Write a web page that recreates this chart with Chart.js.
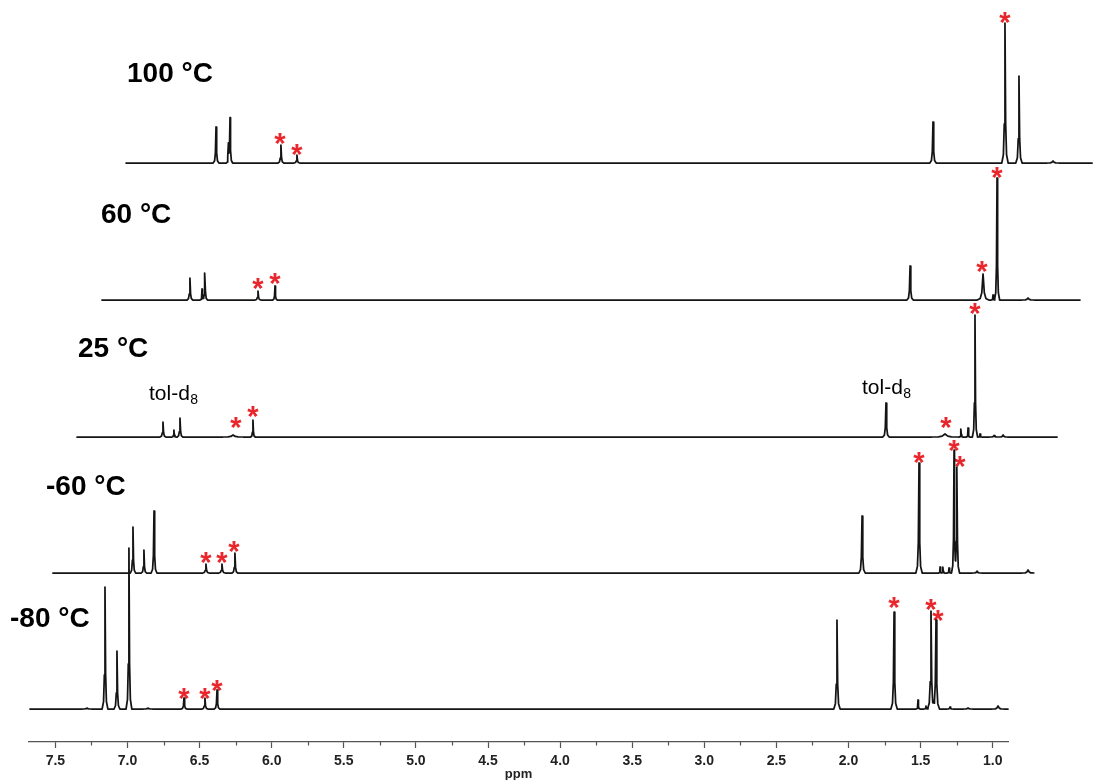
<!DOCTYPE html>
<html>
<head>
<meta charset="utf-8">
<script src="https://cdn.jsdelivr.net/npm/chart.js@4.4.0/dist/chart.umd.min.js"></script>
<style>
  html, body { margin: 0; padding: 0; background: #fff; }
  #wrap { position: relative; width: 1094px; height: 780px; }
</style>
</head>
<body>
<div id="wrap"><canvas id="nmr" width="1094" height="780"></canvas></div>
<script>
// stacked 1H spectra, top to bottom
const temps = ['100 °C', '60 °C', '25 °C', '-60 °C', '-80 °C'];
const offsets = [579, 442, 305, 169, 33];          // baseline of each trace (intensity units)
const spanStart = [7.010, 7.177, 7.350, 7.517, 7.676]; // where each trace starts (ppm)
const spanEnd = [0.311, 0.395, 0.554, 0.727, 0.894];

// peaks: position (ppm), height, half width (ppm)
const ppm100 = [6.386, 6.300, 6.289, 5.936, 5.825, 1.414, 0.915, 0.818, 0.582];
const int100 = [36, 18, 45, 18, 8, 41, 140, 87, 2];
const wid100 = [0.02, 0.014, 0.018, 0.02, 0.02, 0.022, 0.022, 0.022, 0.04];

const ppm60 = [6.567, 6.483, 6.463, 6.095, 5.977, 1.573, 1.067, 0.998, 0.970, 0.755];
const int60 = [22, 11, 27, 9, 14, 34, 26, 5, 122, 2];
const wid60 = [0.02, 0.014, 0.018, 0.02, 0.016, 0.022, 0.04, 0.012, 0.018, 0.04];

const ppm25 = [6.754, 6.678, 6.636, 6.268, 6.130, 1.740, 1.331, 1.220, 1.171, 1.123, 1.088, 0.991, 0.928];
const int25 = [15, 7, 19, 2, 17, 34, 3, 8, 9, 122, 3, 1.5, 2];
const wid25 = [0.02, 0.014, 0.02, 0.07, 0.016, 0.022, 0.09, 0.012, 0.012, 0.018, 0.012, 0.03, 0.03];

const ppmM60 = [6.962, 6.886, 6.816, 6.456, 6.345, 6.255, 1.906, 1.511, 1.365, 1.345, 1.303, 1.268, 1.248, 1.109, 0.755];
const intM60 = [46, 23, 62, 9, 9, 20, 57, 110, 6, 6, 5, 123, 106, 2, 3];
const widM60 = [0.018, 0.018, 0.02, 0.022, 0.022, 0.02, 0.022, 0.022, 0.01, 0.01, 0.012, 0.018, 0.018, 0.03, 0.04];

const ppmM80 = [7.281, 7.156, 7.073, 6.990, 6.858, 6.608, 6.463, 6.379, 2.080, 1.684, 1.518, 1.463, 1.428, 1.393, 1.296, 1.171, 0.963];
const intM80 = [1, 122, 58, 161, 1, 11, 11, 19, 89, 97, 9, 3, 98, 89, 2, 1, 3];
const widM80 = [0.03, 0.02, 0.02, 0.02, 0.03, 0.02, 0.02, 0.02, 0.022, 0.022, 0.014, 0.014, 0.024, 0.024, 0.02, 0.03, 0.04];

// red asterisks: position (ppm), height above the trace baseline
const star100Ppm = [5.942, 5.825, 0.915, 0.818];
const star100Lvl = [24, 13, 145, 93];
const star60Ppm = [6.095, 5.977, 1.074, 0.970];
const star60Lvl = [16, 21, 33, 127];
const star25Ppm = [6.248, 6.130, 1.324, 1.123];
const star25Lvl = [14, 25, 14, 128];
const starM60Ppm = [6.456, 6.345, 6.261, 1.511, 1.268, 1.227];
const starM60Lvl = [15, 15, 26, 115, 127, 111];
const starM80Ppm = [6.608, 6.463, 6.379, 1.684, 1.428, 1.379];
const starM80Lvl = [15, 15, 23, 106, 104, 93];

const majorTicks = [7.5, 7.0, 6.5, 6.0, 5.5, 5.0, 4.5, 4.0, 3.5, 3.0, 2.5, 2.0, 1.5, 1.0];
const minorTicks = [7.25, 6.75, 6.25, 5.75, 5.25, 4.75, 4.25, 3.75, 3.25, 2.75, 2.25, 1.75, 1.25];

const FONT = '"Liberation Sans", Arial, sans-serif';

// peak outline used to draw every line
const shape = [[-1, 0], [-0.5, 0.06], [-0.22, 0.28], [0, 1], [0.22, 0.28], [0.5, 0.06], [1, 0]];
function shapeAt(t) {
  if (t <= -1 || t >= 1) return 0;
  for (let i = 1; i < shape.length; i++) {
    const [t1, y1] = shape[i], [t0, y0] = shape[i - 1];
    if (t <= t1) return y0 + (y1 - y0) * (t - t0) / (t1 - t0);
  }
  return 0;
}
function trace(ppm, ints, wids, base, from, to) {
  const xs = [from, to];
  ppm.forEach((p, i) => shape.forEach(([t]) => xs.push(p + t * wids[i])));
  xs.sort((a, b) => b - a);
  return xs.map(x => ({
    x: x,
    y: base + ppm.reduce((sum, p, i) => sum + ints[i] * shapeAt((x - p) / wids[i]), 0)
  }));
}

const peakSets = [
  [ppm100, int100, wid100], [ppm60, int60, wid60], [ppm25, int25, wid25],
  [ppmM60, intM60, widM60], [ppmM80, intM80, widM80]
];
const starSets = [
  [star100Ppm, star100Lvl], [star60Ppm, star60Lvl], [star25Ppm, star25Lvl],
  [starM60Ppm, starM60Lvl], [starM80Ppm, starM80Lvl]
];

function makeStar() {
  const c = document.createElement('canvas');
  c.width = 22; c.height = 22;
  const g = c.getContext('2d');
  g.fillStyle = '#e8262b';
  g.font = 'bold 29px ' + FONT;
  g.textAlign = 'center';
  g.textBaseline = 'alphabetic';
  const m = g.measureText('*');
  g.fillText('*', 11, 11 + (m.actualBoundingBoxAscent - m.actualBoundingBoxDescent) / 2);
  return c;
}
const starImg = makeStar();

const datasets = [];
peakSets.forEach(([p, h, w], i) => {
  datasets.push({
    type: 'line',
    data: trace(p, h, w, offsets[i], spanStart[i], spanEnd[i]),
    borderColor: '#141414',
    borderWidth: 1.75,
    borderJoinStyle: 'round',
    borderCapStyle: 'round',
    pointRadius: 0,
    tension: 0,
    clip: false
  });
});
const starPts = [];
starSets.forEach(([p, l], i) => p.forEach((v, j) => starPts.push({ x: v, y: offsets[i] + l[j] })));
datasets.push({
  type: 'scatter',
  data: starPts,
  pointStyle: starImg,
  pointRadius: 8,
  showLine: false,
  clip: false
});

// temperature labels and solvent labels (pixel positions)
const tempSpots = [[127, 82], [101, 223], [78, 357], [46, 495], [10, 627]];
const solventSpots = [[149, 400], [862, 394]];

const minorTickPlugin = {
  id: 'minorTicks',
  afterDraw(c) {
    const s = c.scales.x, g = c.ctx;
    g.save();
    g.strokeStyle = '#555';
    g.lineWidth = 1.2;
    minorTicks.forEach(v => {
      const x = Math.round(s.getPixelForValue(v)) + 0.5;
      g.beginPath();
      g.moveTo(x, s.top);
      g.lineTo(x, s.top + 3.5);
      g.stroke();
    });
    g.restore();
  }
};

const labelPlugin = {
  id: 'labels',
  afterDatasetsDraw(c) {
    const g = c.ctx;
    g.save();
    g.fillStyle = '#000';
    g.textBaseline = 'alphabetic';
    g.textAlign = 'left';
    g.font = 'bold 28px ' + FONT;
    temps.forEach((t, i) => g.fillText(t, tempSpots[i][0], tempSpots[i][1]));
    solventSpots.forEach(([x, y]) => {
      g.font = '21px ' + FONT;
      g.fillText('tol-d', x, y);
      const w = g.measureText('tol-d').width;
      g.font = '14px ' + FONT;
      g.fillText('8', x + w + 0.5, y + 4);
    });
    g.restore();
  }
};

new Chart(document.getElementById('nmr'), {
  type: 'line',
  data: { datasets },
  options: {
    responsive: false,
    animation: false,
    events: [],
    layout: { autoPadding: false, padding: { left: 29, right: 86, top: 0, bottom: 0 } },
    plugins: { legend: { display: false }, tooltip: { enabled: false } },
    scales: {
      x: {
        type: 'linear',
        reverse: true,
        min: 0.894,
        max: 7.683,
        afterBuildTicks: s => { s.ticks = majorTicks.map(v => ({ value: v })); },
        afterFit: s => { s.height = 38; },
        grid: { display: true, drawOnChartArea: false, drawTicks: true, tickLength: 6, tickColor: '#555', tickWidth: 1.2 },
        border: { display: true, color: '#555', width: 1.2 },
        ticks: {
          color: '#222',
          font: { family: FONT, size: 14, weight: 'bold' },
          padding: 5,
          maxRotation: 0,
          autoSkip: false,
          callback: v => Number(v).toFixed(1)
        },
        title: {
          display: true,
          text: 'ppm',
          color: '#222',
          font: { family: FONT, size: 13, weight: 'bold', lineHeight: 0.9 },
          padding: { top: 0, bottom: 0 }
        }
      },
      y: { display: false, min: 0, max: 742 }
    }
  },
  plugins: [minorTickPlugin, labelPlugin]
});
</script>
</body>
</html>
